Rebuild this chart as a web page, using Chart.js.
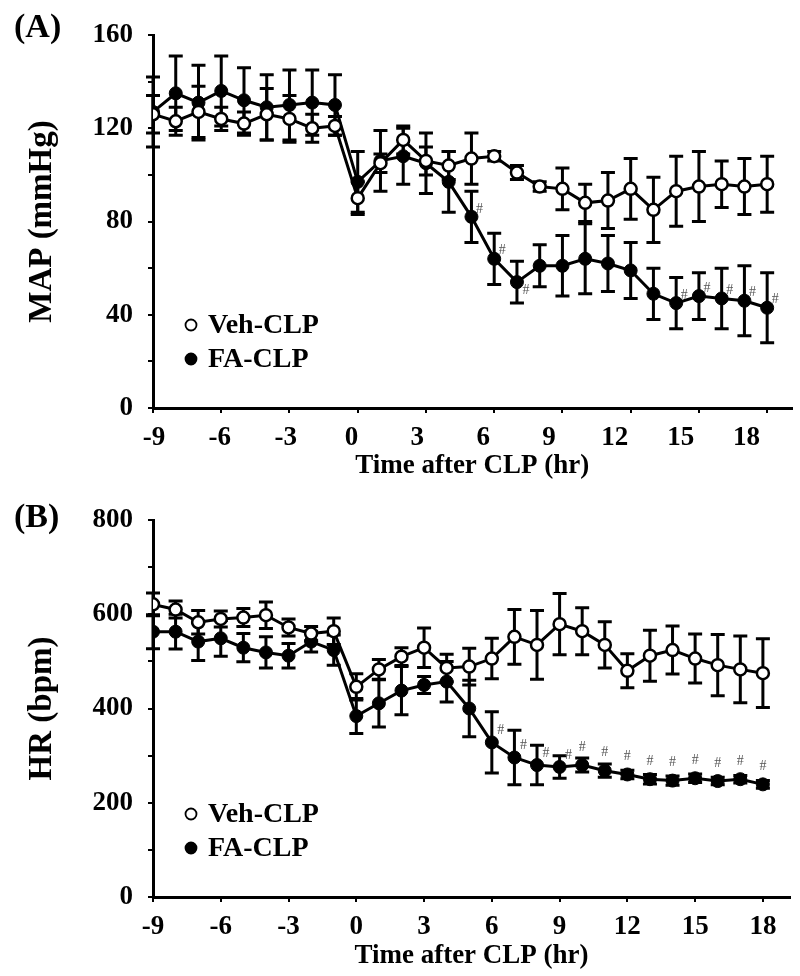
<!DOCTYPE html>
<html>
<head>
<meta charset="utf-8">
<script src="https://cdn.jsdelivr.net/npm/chart.js@4.4.0/dist/chart.umd.min.js"></script>
<style>
  html, body { margin: 0; padding: 0; background: #fff; }
  #wrap { width: 800px; height: 976px; }
  canvas { display: block; }
</style>
</head>
<body>
<div id="wrap">
  <canvas id="chartA" width="800" height="488"></canvas>
  <canvas id="chartB" width="800" height="488"></canvas>
</div>
<script>
// time points (hr after CLP)
const hours = [-9, -8, -7, -6, -5, -4, -3, -2, -1, 0, 1, 2, 3, 4, 5, 6, 7, 8, 9, 10, 11, 12, 13, 14, 15, 16, 17, 18];
const xTicks = [-9, -6, -3, 0, 3, 6, 9, 12, 15, 18];
const mapTicks = [0, 20, 40, 60, 80, 100, 120, 140, 160];
const hrTicks = [0, 100, 200, 300, 400, 500, 600, 700, 800];

// (A) MAP, mmHg
const mapVeh    = [126, 123, 127, 124, 122, 126, 124, 120, 121, 90, 105, 115, 106, 104, 107, 108, 101, 95, 94, 88, 89, 94, 85, 93, 95, 96, 95, 96];
const mapVehErr = [8, 6, 11, 5, 5, 11, 10, 6, 4, 7, 4, 6, 6, 6, 11, 2, 3, 2, 9, 8, 12, 13, 14, 15, 15, 10, 12, 12];
const mapFA     = [127, 135, 131, 136, 132, 129, 130, 131, 130, 97, 106, 108, 105, 97, 82, 64, 54, 61, 61, 64, 62, 59, 49, 45, 48, 47, 46, 43];
const mapFAErr  = [15, 16, 16, 15, 14, 14, 15, 14, 13, 13, 13, 12, 13, 13, 11, 11, 9, 9, 13, 15, 12, 12, 11, 11, 10, 13, 15, 15];
const mapSig    = [5, 6, 7, 14, 15, 16, 17, 18];

// (B) HR, bpm
const hrVeh    = [621, 610, 583, 590, 593, 598, 572, 559, 564, 446, 483, 510, 529, 486, 489, 506, 552, 535, 579, 564, 535, 480, 512, 524, 506, 492, 483, 475];
const hrVehErr = [24, 18, 25, 17, 19, 28, 18, 15, 28, 28, 21, 19, 42, 29, 39, 43, 58, 73, 65, 50, 49, 36, 54, 51, 52, 65, 71, 73];
const hrFA     = [563, 563, 542, 549, 529, 519, 512, 542, 524, 384, 411, 438, 450, 457, 400, 328, 296, 280, 276, 280, 268, 260, 250, 247, 252, 246, 250, 239];
const hrFAErr  = [36, 37, 40, 38, 30, 33, 26, 22, 32, 37, 50, 51, 18, 43, 60, 65, 58, 42, 24, 15, 14, 9, 10, 10, 9, 8, 8, 8];
const hrSig    = [6, 7, 8, 9, 10, 11, 12, 13, 14, 15, 16, 17, 18];

const SERIF = '"Liberation Serif", "Times New Roman", serif';
Chart.defaults.font.family = SERIF;
Chart.defaults.font.weight = 'bold';
Chart.defaults.color = '#000';

function pts(vals) {
    return hours.map((h, i) => ({x: h, y: vals[i]}));
}

// error bars, drawn under the lines and markers
const errorBars = {
    id: 'errorBars',
    beforeDatasetsDraw(chart) {
        const ctx = chart.ctx, ys = chart.scales.y;
        chart.data.datasets.forEach((ds, i) => {
            const meta = chart.getDatasetMeta(i);
            ctx.save();
            ctx.strokeStyle = '#000';
            ctx.lineWidth = 3;
            meta.data.forEach((pt, j) => {
                const v = ds.data[j].y, e = ds.errors[j];
                const top = ys.getPixelForValue(v + e), bot = ys.getPixelForValue(v - e);
                ctx.beginPath();
                ctx.moveTo(pt.x, top); ctx.lineTo(pt.x, bot);
                ctx.moveTo(pt.x - 7, top); ctx.lineTo(pt.x + 7, top);
                ctx.moveTo(pt.x - 7, bot); ctx.lineTo(pt.x + 7, bot);
                ctx.stroke();
            });
            ctx.restore();
        });
    }
};

// '#' marks next to the FA-CLP points
const sigMarks = {
    id: 'sigMarks',
    afterDatasetsDraw(chart, args, opts) {
        const ctx = chart.ctx;
        const meta = chart.getDatasetMeta(1);
        ctx.save();
        ctx.font = '14px ' + SERIF;
        ctx.fillStyle = '#555';
        ctx.textAlign = 'center';
        ctx.textBaseline = 'middle';
        opts.hours.forEach(h => {
            const pt = meta.data[hours.indexOf(h)];
            const off = opts.offset(h);
            ctx.fillText('#', pt.x + off[0], pt.y + off[1]);
        });
        ctx.restore();
    }
};

// legend inside the plot + panel letter
const innerLegend = {
    id: 'innerLegend',
    afterDraw(chart, args, opts) {
        const ctx = chart.ctx, area = chart.chartArea;
        ctx.save();
        ctx.textBaseline = 'middle';
        ctx.textAlign = 'left';
        ctx.fillStyle = '#000';
        ctx.font = 'bold 34px ' + SERIF;
        ctx.fillText(opts.tag, 14, opts.tagY);
        ctx.font = 'bold 28px ' + SERIF;
        chart.data.datasets.forEach((ds, i) => {
            const y = area.bottom - 83 + i * 34;
            const x = area.left + 38;
            ctx.beginPath();
            ctx.arc(x, y, 5.5, 0, Math.PI * 2);
            ctx.fillStyle = ds.pointBackgroundColor;
            ctx.fill();
            ctx.lineWidth = 1.8;
            ctx.strokeStyle = '#000';
            ctx.stroke();
            ctx.fillStyle = '#000';
            ctx.fillText(ds.label, area.left + 55, y + 1);
        });
        ctx.restore();
    }
};

function makeChart(id, c) {
    const ctx = document.getElementById(id).getContext('2d');
    return new Chart(ctx, {
        type: 'line',
        data: {
            datasets: [{
                label: 'Veh-CLP',
                data: pts(c.veh),
                errors: c.vehErr,
                borderColor: '#000',
                borderWidth: 3,
                pointRadius: 6,
                pointBorderWidth: 2.5,
                pointBackgroundColor: '#fff',
                pointBorderColor: '#000',
                tension: 0
            }, {
                label: 'FA-CLP',
                data: pts(c.fa),
                errors: c.faErr,
                borderColor: '#000',
                borderWidth: 3,
                pointRadius: 6.5,
                pointBorderWidth: 1,
                pointBackgroundColor: '#000',
                pointBorderColor: '#000',
                tension: 0
            }]
        },
        options: {
            responsive: false,
            devicePixelRatio: 1,
            animation: false,
            layout: { padding: { top: c.top, right: c.right, left: 0, bottom: 0 } },
            plugins: {
                legend: { display: false },
                tooltip: { enabled: false },
                sigMarks: { hours: c.sig, offset: c.sigOffset },
                innerLegend: { tag: c.tag, tagY: c.tagY }
            },
            scales: {
                x: {
                    type: 'linear', position: 'bottom', weight: 0,
                    min: -9, max: c.xMax,
                    afterBuildTicks: s => { s.ticks = xTicks.map(v => ({value: v})); },
                    afterFit: s => { s.height = 6; },
                    ticks: { display: false },
                    grid: { drawOnChartArea: false, drawTicks: true, tickLength: 5, color: '#000', lineWidth: 2 },
                    border: { display: true, color: '#000', width: 3 }
                },
                xl: {
                    type: 'linear', position: 'bottom', weight: 1,
                    min: c.lblMin, max: c.lblMax,
                    afterBuildTicks: s => { s.ticks = xTicks.map(v => ({value: v})); },
                    afterFit: s => { s.height = c.xlH; },
                    ticks: { font: { size: 27, weight: 'bold' }, padding: 8, maxRotation: 0, autoSkip: false },
                    grid: { display: false, drawTicks: false },
                    border: { display: false },
                    title: {
                        display: true, text: 'Time after CLP (hr)',
                        font: { size: 27, weight: 'bold' },
                        padding: { top: 0, bottom: c.titlePad }
                    }
                },
                y: {
                    min: 0, max: c.yMax,
                    afterBuildTicks: s => { s.ticks = c.yTicks.map(v => ({value: v})); },
                    afterFit: s => { s.width = 153; },
                    ticks: {
                        callback: v => (v % c.labelStep === 0 ? v : ''),
                        font: { size: 27, weight: 'bold' }, padding: 15, autoSkip: false
                    },
                    grid: { drawOnChartArea: false, drawTicks: true, tickLength: 5, color: '#000', lineWidth: 2 },
                    border: { display: true, color: '#000', width: 3 },
                    title: {
                        display: true, text: c.yTitle,
                        font: { size: 33, weight: 'bold' },
                        padding: { top: 23, bottom: 0 }
                    }
                }
            }
        },
        plugins: [errorBars, sigMarks, innerLegend]
    });
}

makeChart('chartA', {
    veh: mapVeh, vehErr: mapVehErr, fa: mapFA, faErr: mapFAErr, sig: mapSig,
    sigOffset: h => (h === 7 ? [9, 8] : [8, -8]),
    tag: '(A)', tagY: 28,
    top: 35, right: 7, xMax: 19.07, lblMin: -9.045, lblMax: 20.05, xlH: 74, titlePad: 6,
    yMax: 160, yTicks: mapTicks, labelStep: 40, yTitle: 'MAP (mmHg)'
});

makeChart('chartB', {
    veh: hrVeh, vehErr: hrVehErr, fa: hrFA, faErr: hrFAErr, sig: hrSig,
    sigOffset: h => (h < 10 ? [9, -12] : [0, -18]),
    tag: '(B)', tagY: 30,
    top: 32, right: 10, xMax: 19.2, lblMin: -9, lblMax: 19.2, xlH: 73, titlePad: 4,
    yMax: 800, yTicks: hrTicks, labelStep: 200, yTitle: 'HR (bpm)'
});
</script>
</body>
</html>
